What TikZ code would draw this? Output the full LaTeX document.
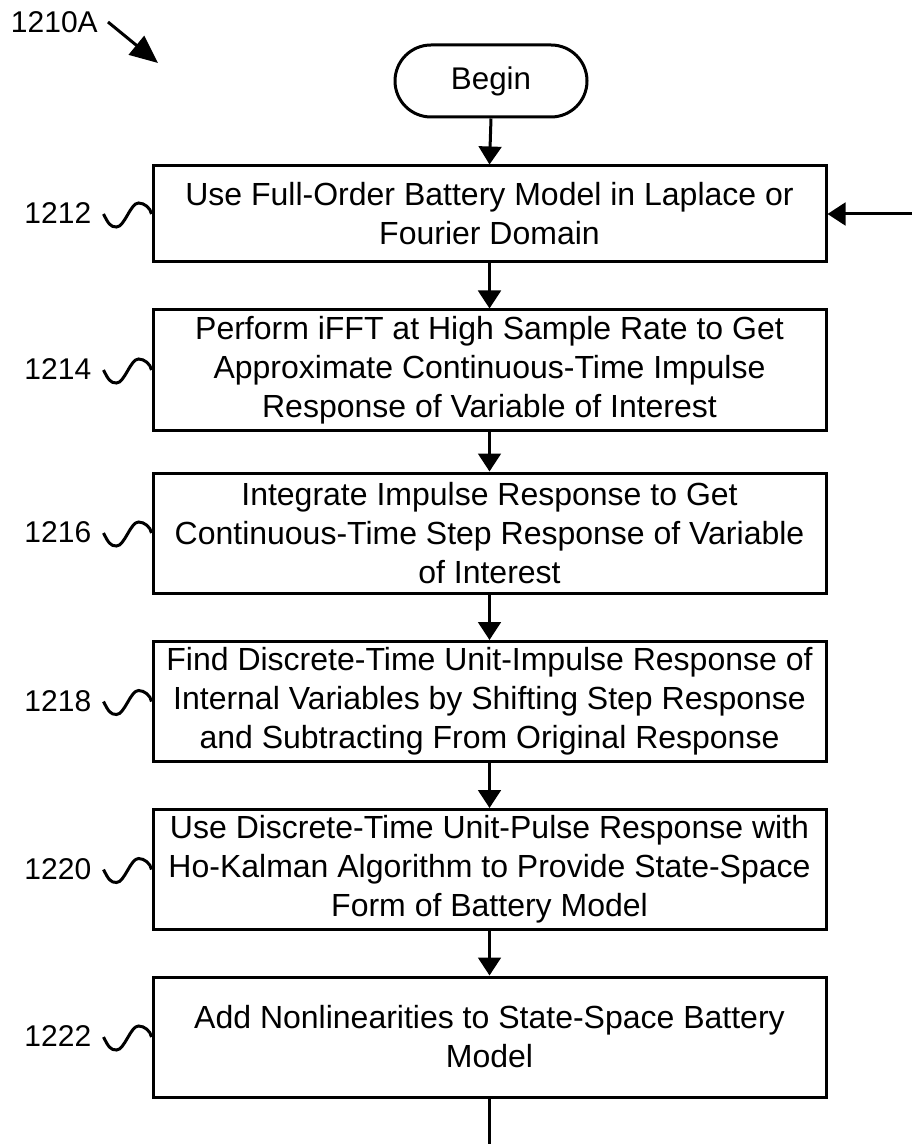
\documentclass[tikz,border=0pt]{standalone}
\usepackage{fontspec}
\setmainfont{Liberation Sans}
\usetikzlibrary{arrows.meta,shapes.misc}
\begin{document}
\begin{tikzpicture}[x=0.75pt,y=-0.75pt,
  every node/.style={font=\fontsize{22.5}{29.25}\selectfont},
  box/.style={draw, line width=2.25pt, minimum width=504.75pt, minimum height=90pt, align=center, inner sep=0pt, font=\fontsize{24}{29.25}\selectfont},
  term/.style={draw, line width=2.25pt, rounded rectangle, minimum width=144pt, minimum height=54pt, inner sep=0pt, font=\fontsize{23.5}{29.25}\selectfont},
  lab/.style={anchor=east, inner sep=0pt},
  flow/.style={line width=2.25pt, -{Triangle[length=13.5pt,width=17pt]}},
  bigflow/.style={line width=2.25pt, -{Triangle[length=21pt,width=18pt]}},
  plain/.style={line width=2.25pt},
  squig/.style={line width=2.25pt}]
\useasboundingbox (0,0) rectangle (912,1144);

\node[term] (begin) at (491,81) {Begin};
\node[box, minimum height=72pt] (b1) at (489.5,214) {Use Full-Order Battery Model in Laplace or\\Fourier Domain};
\node[box] (b2) at (489.5,370) {Perform iFFT at High Sample Rate to Get\\Approximate Continuous-Time Impulse\\Response of Variable of Interest};
\node[box] (b3) at (489.5,533) {Integrate Impulse Response to Get\\Continuous-Time Step Response of Variable\\of Interest};
\node[box] (b4) at (489.5,701.5) {Find Discrete-Time Unit-Impulse Response of\\Internal Variables by Shifting Step Response\\and Subtracting From Original Response};
\node[box] (b5) at (489.5,869.5) {Use Discrete-Time Unit-Pulse Response with\\Ho-Kalman Algorithm to Provide State-Space\\Form of Battery Model};
\node[box] (b6) at (489.5,1037) {Add Nonlinearities to State-Space Battery\\Model};

\node[lab] (fig) at (98,22) {1210A};
\coordinate (figtip) at (158,63);
\draw[bigflow] ([xshift=7.5pt]fig.east) -- (figtip);

\foreach \b/\n in {b1/1212,b2/1214,b3/1216,b4/1218,b5/1220,b6/1222}{
  \node[lab] (l\n) at ([xshift=-45pt,yshift=0.5pt]\b.west) {\n};
  \draw[squig] ([xshift=-36pt]\b.west) .. controls +(5,10) and +(-6,0) .. ++(13,13)
     .. controls +(8,0) and +(-8,0) .. ++(22,-24)
     .. controls +(6,0) and +(-1,-6) .. ++(13,11);
}

\draw[flow] (begin.south) -- (b1.north);
\draw[flow] (b1.south) -- (b2.north);
\draw[flow] (b2.south) -- (b3.north);
\draw[flow] (b3.south) -- (b4.north);
\draw[flow] (b4.south) -- (b5.north);
\draw[flow] (b5.south) -- (b6.north);

\coordinate (loopin) at (912,214);
\draw[flow] (loopin) -- (b1.east);
\coordinate (out) at (489.5,1144);
\draw[plain] (b6.south) -- (out);
\end{tikzpicture}
\end{document}
